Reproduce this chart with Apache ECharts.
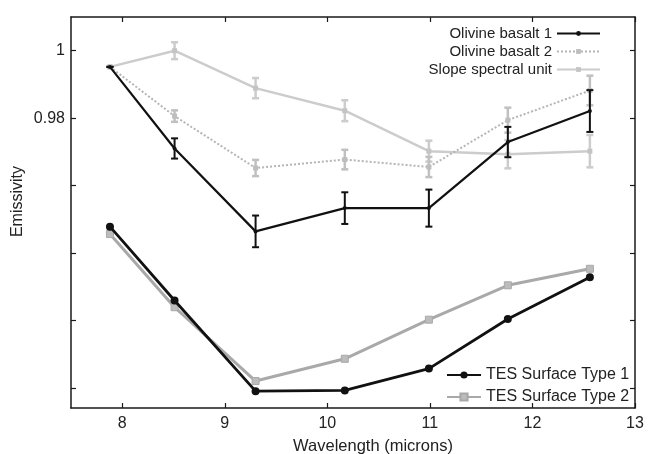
<!DOCTYPE html>
<html>
<head>
<meta charset="utf-8">
<script src="https://cdn.jsdelivr.net/npm/echarts@6/dist/echarts.min.js"></script>
<style>html,body{margin:0;padding:0;background:#fff}#c{width:649px;height:454px}</style>
</head>
<body>
<div id="c"></div>
<script>
const wavelengths = [7.88, 8.51, 9.30, 10.17, 10.99, 11.76, 12.56];
const olivine1 = [0.9952, 0.9710, 0.9464, 0.9533, 0.9533, 0.9729, 0.9821];
const olivine1Err = [0, 0.0030, 0.0047, 0.0047, 0.0055, 0.0045, 0.0062];
const olivine2 = [0.9952, 0.9806, 0.9652, 0.9677, 0.9655, 0.9794, 0.9882];
const olivine2Err = [0, 0.0017, 0.0024, 0.0029, 0.0030, 0.0037, 0.0044];
const slope = [0.9952, 1.0000, 0.9889, 0.9822, 0.9702, 0.9693, 0.9702];
const slopeErr = [0, 0.0025, 0.0030, 0.0031, 0.0031, 0.0042, 0.0048];
const tes1 = [0.9478, 0.9259, 0.8990, 0.8992, 0.9057, 0.9204, 0.9328];
const tes2 = [0.9456, 0.9239, 0.9020, 0.9086, 0.9202, 0.9304, 0.9353];
const xTicks = [8, 9, 10, 11, 12, 13];
const yTicks = [0.90, 0.92, 0.94, 0.96, 0.98, 1.00];
const yLabels = [0.98, 1.00];

const FONT = 'Liberation Sans, Arial, sans-serif';
const TXT = '#222';

function pairs(vals) { return wavelengths.map((w, i) => [w, vals[i]]); }
function errData(vals, errs) { return wavelengths.map((w, i) => [w, vals[i] - errs[i], vals[i] + errs[i]]); }
function errSeries(vals, errs, color, width, z) {
  return {
    type: 'custom', silent: true, z: z,
    data: errData(vals, errs),
    renderItem: function (params, api) {
      const lo = api.coord([api.value(0), api.value(1)]);
      const hi = api.coord([api.value(0), api.value(2)]);
      const hw = 3.5;
      const st = { stroke: color, lineWidth: width };
      return { type: 'group', children: [
        { type: 'line', shape: { x1: lo[0], y1: lo[1], x2: hi[0], y2: hi[1] }, style: st },
        { type: 'line', shape: { x1: lo[0] - hw, y1: lo[1], x2: lo[0] + hw, y2: lo[1] }, style: st },
        { type: 'line', shape: { x1: hi[0] - hw, y1: hi[1], x2: hi[0] + hw, y2: hi[1] }, style: st }
      ]};
    }
  };
}

const chart = echarts.init(document.getElementById('c'), null, { renderer: 'canvas' });
const axLine = { show: true, lineStyle: { color: '#1a1a1a', width: 1.5 } };
const tick = (vals) => ({ show: true, inside: true, length: 5, customValues: vals, lineStyle: { color: '#1a1a1a', width: 1.2 } });

chart.setOption({
  animation: false,
  backgroundColor: '#fff',
  grid: { left: 71, right: 14, top: 17, bottom: 46, containLabel: false, outerBoundsMode: 'none' },
  xAxis: [
    { type: 'value', min: 7.5, max: 13, position: 'bottom',
      axisLine: axLine, axisTick: tick(xTicks), splitLine: { show: false },
      axisLabel: { customValues: xTicks, color: TXT, fontFamily: FONT, fontSize: 16, margin: 8 },
      name: 'Wavelength (microns)', nameLocation: 'middle', nameGap: 30,
      nameTextStyle: { color: TXT, fontFamily: FONT, fontSize: 16.5, padding: [0, 0, 0, 40] } },
    { type: 'value', min: 7.5, max: 13, position: 'top',
      axisLine: axLine, axisTick: tick(xTicks), splitLine: { show: false },
      axisLabel: { show: false } }
  ],
  yAxis: [
    { type: 'value', min: 0.894, max: 1.010, position: 'left',
      axisLine: axLine, axisTick: tick(yTicks), splitLine: { show: false },
      axisLabel: { customValues: yLabels, color: TXT, fontFamily: FONT, fontSize: 16, margin: 6,
        formatter: v => (Math.abs(v - 1) < 1e-9 ? '1' : v.toFixed(2)) },
      name: 'Emissivity', nameLocation: 'middle', nameGap: 45, nameRotate: 90, nameMoveOverlap: false,
      nameTextStyle: { color: TXT, fontFamily: FONT, fontSize: 16, padding: [0, 0, 0, 22] } },
    { type: 'value', min: 0.894, max: 1.010, position: 'right',
      axisLine: axLine, axisTick: tick(yTicks), splitLine: { show: false },
      axisLabel: { show: false } }
  ],
  legend: [
    { data: ['Olivine basalt 1', 'Olivine basalt 2', 'Slope spectral unit'],
      orient: 'vertical', align: 'right', right: 48, top: 26, itemGap: 3, padding: 0,
      itemWidth: 43, itemHeight: 6, textStyle: { color: TXT, fontFamily: FONT, fontSize: 15 } },
    { data: ['TES Surface Type 1', 'TES Surface Type 2'],
      orient: 'vertical', align: 'left', left: 446, top: 367, itemGap: 6, padding: 0,
      itemWidth: 34, itemHeight: 9, textStyle: { color: TXT, fontFamily: FONT, fontSize: 16 } }
  ],
  series: [
    { name: 'TES Surface Type 2', type: 'line', data: pairs(tes2), z: 2,
      symbol: 'rect', symbolSize: 7, lineStyle: { color: '#a9a9a9', width: 3 },
      itemStyle: { color: '#bcbcbc', borderColor: '#a9a9a9', borderWidth: 1 } },
    { name: 'TES Surface Type 1', type: 'line', data: pairs(tes1), z: 3,
      symbol: 'circle', symbolSize: 8, lineStyle: { color: '#111', width: 2.8 },
      itemStyle: { color: '#111' } },
    errSeries(slope, slopeErr, '#cccccc', 2.5, 4),
    { name: 'Slope spectral unit', type: 'line', data: pairs(slope), z: 4,
      symbol: 'rect', symbolSize: 5, lineStyle: { color: '#cccccc', width: 2.5 },
      itemStyle: { color: '#c4c4c4' } },
    errSeries(olivine2, olivine2Err, '#c0c0c0', 2.5, 5),
    { name: 'Olivine basalt 2', type: 'line', data: pairs(olivine2), z: 5,
      symbol: 'rect', symbolSize: 5, lineStyle: { color: '#b5b5b5', width: 2, type: [2, 2] },
      itemStyle: { color: '#bdbdbd' } },
    errSeries(olivine1, olivine1Err, '#111', 2, 6),
    { name: 'Olivine basalt 1', type: 'line', data: pairs(olivine1), z: 6,
      symbol: 'circle', symbolSize: 4, lineStyle: { color: '#111', width: 2.2 },
      itemStyle: { color: '#111' } }
  ]
});
</script>
</body>
</html>
